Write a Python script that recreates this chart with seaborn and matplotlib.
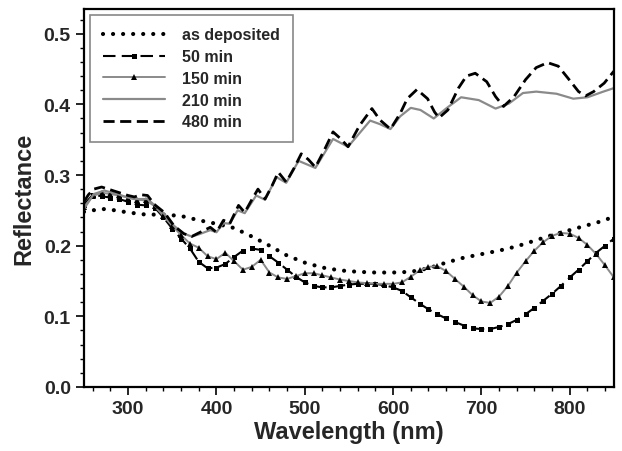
import numpy as np
import pandas as pd
import matplotlib
matplotlib.use("Agg")
import matplotlib.pyplot as plt
import seaborn as sns

# as deposited
wl_dep = [250, 260, 270, 280, 300, 320, 340, 360, 380, 400, 420, 440, 460, 480, 500,
          520, 540, 560, 580, 600, 620, 640, 660, 680, 700, 720, 740, 760, 780, 800,
          820, 840, 850]
r_dep = [0.248, 0.250, 0.252, 0.251, 0.247, 0.244, 0.244, 0.242, 0.236, 0.231, 0.225,
         0.213, 0.200, 0.186, 0.176, 0.169, 0.165, 0.163, 0.162, 0.162, 0.163, 0.168,
         0.176, 0.183, 0.188, 0.193, 0.199, 0.207, 0.215, 0.222, 0.229, 0.236, 0.242]

# 50 min / 150 min, sampled every 10 nm
wl_10 = list(range(250, 851, 10))
r_50 = [0.258, 0.272, 0.270, 0.268, 0.266, 0.262, 0.258, 0.257, 0.254, 0.240,
        0.224, 0.210, 0.196, 0.177, 0.168, 0.169, 0.174, 0.184, 0.193, 0.196,
        0.194, 0.185, 0.176, 0.166, 0.156, 0.148, 0.143, 0.141, 0.141, 0.143,
        0.145, 0.146, 0.146, 0.146, 0.144, 0.141, 0.136, 0.127, 0.118, 0.110,
        0.103, 0.097, 0.092, 0.087, 0.083, 0.082, 0.082, 0.085, 0.089, 0.095,
        0.103, 0.112, 0.122, 0.132, 0.143, 0.155, 0.166, 0.178, 0.190, 0.200,
        0.210]
r_150 = [0.255, 0.270, 0.275, 0.273, 0.271, 0.268, 0.265, 0.264, 0.256, 0.242,
         0.228, 0.215, 0.203, 0.197, 0.185, 0.181, 0.190, 0.178, 0.166, 0.170,
         0.180, 0.162, 0.155, 0.153, 0.157, 0.161, 0.161, 0.158, 0.155, 0.152,
         0.150, 0.148, 0.147, 0.146, 0.146, 0.146, 0.148, 0.156, 0.165, 0.170,
         0.171, 0.164, 0.153, 0.142, 0.130, 0.121, 0.119, 0.128, 0.143, 0.162,
         0.178, 0.193, 0.205, 0.214, 0.218, 0.217, 0.211, 0.201, 0.188, 0.172,
         0.155]

# 210 min
wl_210 = [250, 261, 273, 288, 300, 307, 322, 330, 341, 352, 363, 372, 380, 393, 400,
          408, 415, 424, 432, 445, 455, 468, 479, 493, 512, 532, 549, 574, 585, 597,
          608, 620, 631, 646, 662, 677, 697, 716, 731, 747, 762, 785, 804, 820, 838,
          850]
r_210 = [0.252, 0.273, 0.278, 0.273, 0.268, 0.266, 0.266, 0.257, 0.245, 0.228, 0.217,
         0.213, 0.216, 0.222, 0.219, 0.232, 0.231, 0.250, 0.246, 0.271, 0.265, 0.297,
         0.289, 0.320, 0.310, 0.351, 0.340, 0.377, 0.372, 0.365, 0.383, 0.395, 0.392,
         0.380, 0.396, 0.410, 0.406, 0.394, 0.401, 0.416, 0.418, 0.415, 0.408, 0.410,
         0.418, 0.423]

# 480 min
wl_480 = [250, 255, 261, 270, 280, 290, 300, 307, 315, 322, 330, 341, 352, 363, 372,
          380, 393, 400, 408, 415, 425, 432, 440, 447, 455, 463, 470, 479, 488, 496,
          504, 512, 522, 532, 540, 549, 562, 576, 585, 597, 608, 616, 627, 639, 647,
          652, 662, 674, 683, 693, 706, 716, 725, 737, 750, 762, 775, 787, 798, 810,
          818, 827, 839, 850]
r_480 = [0.262, 0.272, 0.280, 0.283, 0.279, 0.275, 0.271, 0.269, 0.272, 0.271, 0.258,
         0.247, 0.228, 0.217, 0.213, 0.218, 0.226, 0.219, 0.236, 0.231, 0.257, 0.247,
         0.265, 0.280, 0.266, 0.285, 0.304, 0.290, 0.310, 0.330, 0.322, 0.311, 0.335,
         0.361, 0.352, 0.340, 0.370, 0.394, 0.378, 0.365, 0.387, 0.408, 0.421, 0.408,
         0.389, 0.381, 0.392, 0.423, 0.440, 0.444, 0.432, 0.411, 0.397, 0.411, 0.435,
         0.452, 0.459, 0.454, 0.437, 0.418, 0.412, 0.418, 0.430, 0.447]

sns.set_style("ticks")
plt.rcParams["font.family"] = ["Liberation Sans", "DejaVu Sans"]
plt.rcParams["font.weight"] = "bold"

fig = plt.figure(figsize=(6.22, 4.52), dpi=100)
ax = fig.add_axes([0.135, 0.1416, 0.852, 0.8364])

sns.lineplot(x=wl_dep, y=r_dep, ax=ax, color="black", lw=3.0,
             linestyle=(0, (0.01, 2.4)), dash_capstyle="round",
             label="as deposited", estimator=None, sort=False)
sns.lineplot(x=wl_10, y=r_50, ax=ax, color="black", lw=1.5,
             linestyle=(0, (6, 3)), marker="s", markersize=3.6,
             markeredgewidth=0, label="50 min", estimator=None, sort=False)
sns.lineplot(x=wl_10, y=r_150, ax=ax, color="#8a8a8a", lw=1.4,
             marker="^", markersize=4.5, markerfacecolor="black",
             markeredgecolor="black", markeredgewidth=0,
             label="150 min", estimator=None, sort=False)
sns.lineplot(x=wl_210, y=r_210, ax=ax, color="#8a8a8a", lw=1.6,
             label="210 min", estimator=None, sort=False)
sns.lineplot(x=wl_480, y=r_480, ax=ax, color="black", lw=2.0,
             linestyle=(0, (4, 2)), label="480 min", estimator=None, sort=False)

ax.set_xlim(250, 850)
ax.set_ylim(0, 0.535)
ax.set_xticks([300, 400, 500, 600, 700, 800])
ax.set_xticks(np.arange(260, 851, 20), minor=True)
ax.set_yticks([0.0, 0.1, 0.2, 0.3, 0.4, 0.5])
ax.set_yticks(np.arange(0, 0.535, 0.02), minor=True)
ax.set_yticklabels(["0.0", "0.1", "0.2", "0.3", "0.4", "0.5"])
ax.tick_params(which="major", direction="out", length=6, width=1.2,
               labelsize=14, color="black")
ax.tick_params(which="minor", direction="out", length=3, width=1.0, color="black")
for lab in ax.get_xticklabels() + ax.get_yticklabels():
    lab.set_fontweight("bold")
for sp in ax.spines.values():
    sp.set_visible(True)
    sp.set_linewidth(1.6)
    sp.set_color("black")

ax.set_xlabel("Wavelength (nm)", fontsize=17, fontweight="bold", labelpad=2)
ax.set_ylabel("Reflectance", fontsize=17, fontweight="bold", labelpad=6)

leg = ax.legend(loc="upper left", bbox_to_anchor=(0.011, 0.985), fancybox=False,
                framealpha=1, edgecolor="#888888", handlelength=3.9,
                handletextpad=1.1, labelspacing=0.42, borderpad=0.8,
                borderaxespad=0.0, prop={"weight": "bold", "size": 11.5})
leg.get_frame().set_linewidth(1.2)

fig.savefig("out.png", dpi=100)
